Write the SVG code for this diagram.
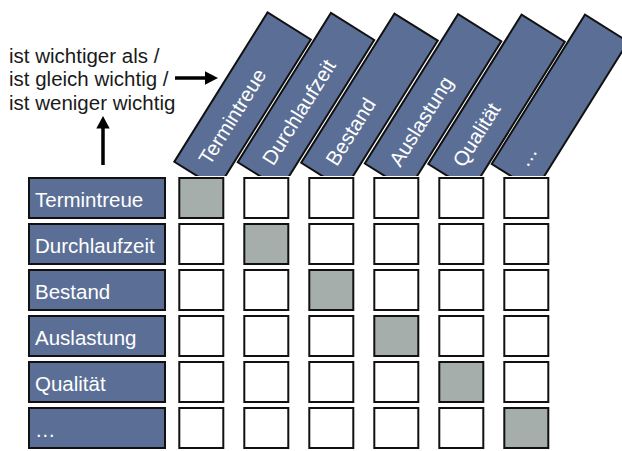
<svg xmlns="http://www.w3.org/2000/svg" width="622" height="451" viewBox="0 0 622 451">
  <style>
    .lbl { fill: #5b6f96; stroke: #111; stroke-width: 2; }
    .cell { fill: #ffffff; stroke: #111; stroke-width: 2; }
    .cell.self { fill: #a6aeab; }
    .wt { font-family: "Liberation Sans", Arial, sans-serif; font-size: 20.5px; fill: #ffffff; }
    .note { font-family: "Liberation Sans", Arial, sans-serif; font-size: 20.5px; fill: #1a1a1a; }
    .conn { stroke: #000; stroke-width: 3.5; fill: none; }
    .head { fill: #000; }
  </style>
  <defs>
    <clipPath id="headerClip">
      <rect x="0" y="0" width="622" height="176"/>
    </clipPath>
  </defs>

  <rect width="622" height="451" fill="#ffffff"/>

  <!-- explanatory note -->
  <g id="note">
    <text class="note" x="9" y="62.7">ist wichtiger als /</text>
    <text class="note" x="9" y="86.4">ist gleich wichtig /</text>
    <text class="note" x="9" y="110">ist weniger wichtig</text>
  </g>

  <!-- connectors -->
  <g id="connectors">
    <line class="conn" x1="175" y1="78" x2="206" y2="78"/>
    <polygon class="head" points="205,71.3 218,78 205,84.7"/>
    <line class="conn" x1="103" y1="165" x2="103" y2="127"/>
    <polygon class="head" points="96.3,128.5 103,116 109.7,128.5"/>
  </g>

  <!-- slanted column headers -->
  <g id="column-headers" clip-path="url(#headerClip)">
    <g id="col-termintreue" transform="translate(174.3,161.7) rotate(-58)">
      <rect class="lbl" x="0" y="0" width="176" height="51"/>
      <text class="wt" x="15" y="32.5">Termintreue</text>
    </g>
    <g id="col-durchlaufzeit" transform="translate(237.7,162.2) rotate(-58)">
      <rect class="lbl" x="0" y="0" width="176" height="51"/>
      <text class="wt" x="15" y="32.5">Durchlaufzeit</text>
    </g>
    <g id="col-bestand" transform="translate(301.2,162.8) rotate(-58)">
      <rect class="lbl" x="0" y="0" width="176" height="51"/>
      <text class="wt" x="15" y="32.5">Bestand</text>
    </g>
    <g id="col-auslastung" transform="translate(364.8,163.5) rotate(-58)">
      <rect class="lbl" x="0" y="0" width="176" height="51"/>
      <text class="wt" x="15" y="32.5">Auslastung</text>
    </g>
    <g id="col-qualitaet" transform="translate(428.3,164) rotate(-58)">
      <rect class="lbl" x="0" y="0" width="176" height="51"/>
      <text class="wt" x="15" y="32.5">Qualität</text>
    </g>
    <g id="col-more" transform="translate(491.7,164) rotate(-58)">
      <rect class="lbl" x="0" y="0" width="176" height="51"/>
      <text class="wt" x="15" y="32.5">…</text>
    </g>
  </g>

  <!-- row labels -->
  <g id="row-termintreue">
    <rect class="lbl" x="29" y="178" width="136" height="40"/>
    <text class="wt" x="35" y="206.5">Termintreue</text>
  </g>
  <g id="row-durchlaufzeit">
    <rect class="lbl" x="29" y="224" width="136" height="40"/>
    <text class="wt" x="35" y="252.5">Durchlaufzeit</text>
  </g>
  <g id="row-bestand">
    <rect class="lbl" x="29" y="270" width="136" height="40"/>
    <text class="wt" x="35" y="298.5">Bestand</text>
  </g>
  <g id="row-auslastung">
    <rect class="lbl" x="29" y="316" width="136" height="40"/>
    <text class="wt" x="35" y="344.5">Auslastung</text>
  </g>
  <g id="row-qualitaet">
    <rect class="lbl" x="29" y="362" width="136" height="40"/>
    <text class="wt" x="35" y="390.5">Qualität</text>
  </g>
  <g id="row-more">
    <rect class="lbl" x="29" y="408" width="136" height="40"/>
    <text class="wt" x="35" y="436.5">…</text>
  </g>

  <!-- comparison matrix -->
  <g id="matrix">
    <g id="matrix-r1">
      <rect class="cell self" x="179.3" y="178" width="44" height="40"/>
      <rect class="cell" x="244.3" y="178" width="44" height="40"/>
      <rect class="cell" x="309.3" y="178" width="44" height="40"/>
      <rect class="cell" x="374.3" y="178" width="44" height="40"/>
      <rect class="cell" x="439.3" y="178" width="44" height="40"/>
      <rect class="cell" x="504.3" y="178" width="44" height="40"/>
    </g>
    <g id="matrix-r2">
      <rect class="cell" x="179.3" y="224" width="44" height="40"/>
      <rect class="cell self" x="244.3" y="224" width="44" height="40"/>
      <rect class="cell" x="309.3" y="224" width="44" height="40"/>
      <rect class="cell" x="374.3" y="224" width="44" height="40"/>
      <rect class="cell" x="439.3" y="224" width="44" height="40"/>
      <rect class="cell" x="504.3" y="224" width="44" height="40"/>
    </g>
    <g id="matrix-r3">
      <rect class="cell" x="179.3" y="270" width="44" height="40"/>
      <rect class="cell" x="244.3" y="270" width="44" height="40"/>
      <rect class="cell self" x="309.3" y="270" width="44" height="40"/>
      <rect class="cell" x="374.3" y="270" width="44" height="40"/>
      <rect class="cell" x="439.3" y="270" width="44" height="40"/>
      <rect class="cell" x="504.3" y="270" width="44" height="40"/>
    </g>
    <g id="matrix-r4">
      <rect class="cell" x="179.3" y="316" width="44" height="40"/>
      <rect class="cell" x="244.3" y="316" width="44" height="40"/>
      <rect class="cell" x="309.3" y="316" width="44" height="40"/>
      <rect class="cell self" x="374.3" y="316" width="44" height="40"/>
      <rect class="cell" x="439.3" y="316" width="44" height="40"/>
      <rect class="cell" x="504.3" y="316" width="44" height="40"/>
    </g>
    <g id="matrix-r5">
      <rect class="cell" x="179.3" y="362" width="44" height="40"/>
      <rect class="cell" x="244.3" y="362" width="44" height="40"/>
      <rect class="cell" x="309.3" y="362" width="44" height="40"/>
      <rect class="cell" x="374.3" y="362" width="44" height="40"/>
      <rect class="cell self" x="439.3" y="362" width="44" height="40"/>
      <rect class="cell" x="504.3" y="362" width="44" height="40"/>
    </g>
    <g id="matrix-r6">
      <rect class="cell" x="179.3" y="408" width="44" height="40"/>
      <rect class="cell" x="244.3" y="408" width="44" height="40"/>
      <rect class="cell" x="309.3" y="408" width="44" height="40"/>
      <rect class="cell" x="374.3" y="408" width="44" height="40"/>
      <rect class="cell" x="439.3" y="408" width="44" height="40"/>
      <rect class="cell self" x="504.3" y="408" width="44" height="40"/>
    </g>
  </g>
</svg>
